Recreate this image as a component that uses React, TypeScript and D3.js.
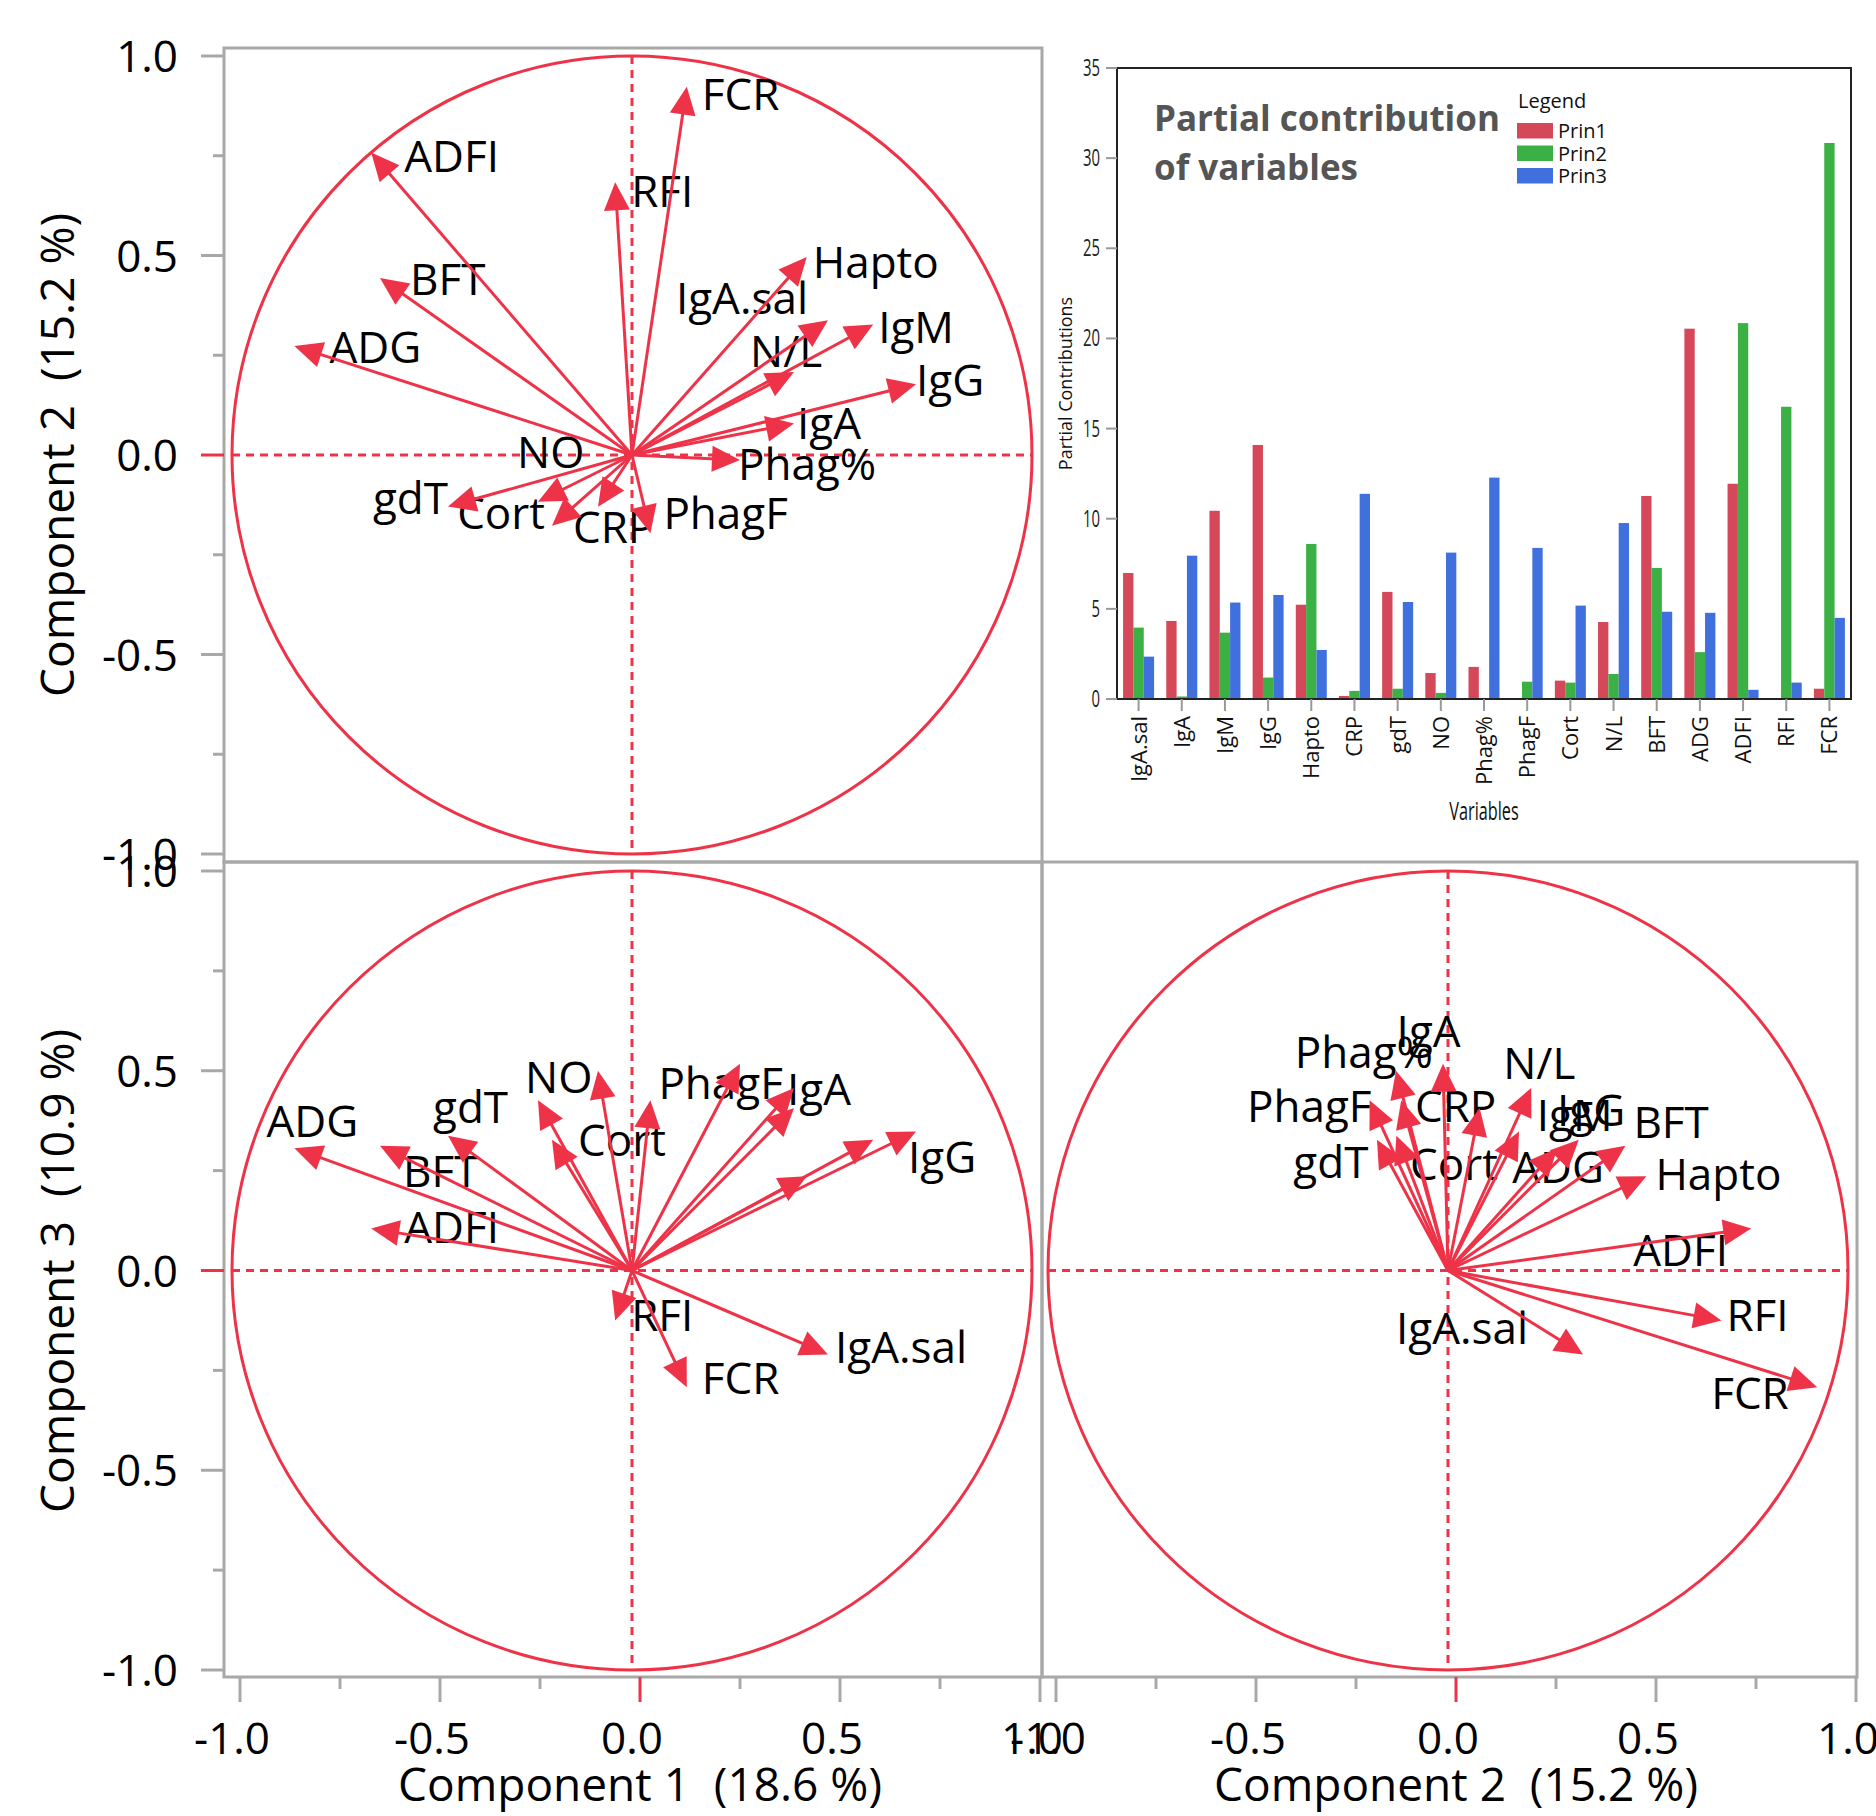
import React from 'react';
import * as d3 from 'd3';

// variables in the order of the bar chart
const variables = ['IgA.sal', 'IgA', 'IgM', 'IgG', 'Hapto', 'CRP', 'gdT', 'NO', 'Phag%', 'PhagF', 'Cort', 'N/L', 'BFT', 'ADG', 'ADFI', 'RFI', 'FCR'];

// partial contributions (bar chart)
const prin1 = [6.99, 4.33, 10.44, 14.09, 5.23, 0.17, 5.94, 1.44, 1.78, 0.03, 1.02, 4.27, 11.26, 20.54, 11.94, 0.03, 0.57];
const prin2 = [3.96, 0.14, 3.68, 1.19, 8.6, 0.45, 0.57, 0.34, 0.0, 0.96, 0.91, 1.39, 7.27, 2.6, 20.85, 16.21, 30.84];
const prin3 = [2.35, 7.95, 5.35, 5.77, 2.72, 11.38, 5.38, 8.12, 12.28, 8.38, 5.18, 9.76, 4.84, 4.78, 0.51, 0.91, 4.5];

// loadings
const load1 = [0.49, 0.405, 0.603, 0.71, 0.437, -0.085, -0.46, -0.235, 0.27, 0.046, -0.2, 0.405, -0.63, -0.844, -0.652, -0.042, 0.137];
const load2 = [0.3375, 0.079, 0.327, 0.1775, 0.496, -0.13, -0.129, -0.117, -0.0125, -0.196, -0.1775, 0.208, 0.4435, 0.273, 0.758, 0.6835, 0.923];
const load3 = [-0.21, 0.407, 0.3275, 0.348, 0.236, 0.5, 0.3375, 0.426, 0.5175, 0.426, 0.3275, 0.457, 0.3125, 0.306, 0.105, -0.125, -0.292];

const legendNames = ['Prin1', 'Prin2', 'Prin3'];
const axisTicks = [-1, -0.75, -0.5, -0.25, 0, 0.25, 0.5, 0.75, 1];
const barTicks = [0, 5, 10, 15, 20, 25, 30, 35];

const RED = '#ee3349';
const GRAY = '#a8a8a8';
const FONT = "'Open Sans', 'Noto Sans', sans-serif";
const barColors = ['#d5485a', '#3bb145', '#4070dd'];

// label placement per plot: [anchor, dx, dy] relative to arrow tip
type Lab = [string, number, number];
const labTop: Record<string, Lab> = {
  FCR: ['start', 15, 7], ADFI: ['start', 33, 3], RFI: ['start', 16, 9], BFT: ['start', 30, 1],
  ADG: ['start', 35, 1], Hapto: ['start', 6, 5], 'IgA.sal': ['end', -20, -22], IgM: ['start', 5, 2],
  'N/L': ['start', -44, -21], IgG: ['start', 0, -4], IgA: ['start', 3, 0], 'Phag%': ['start', -2, 4],
  PhagF: ['start', 13, -20], CRP: ['start', -25, 20], NO: ['start', -21, -50], Cort: ['end', -7, -13],
  gdT: ['end', 0, -8],
};
const labBL: Record<string, Lab> = {
  ADG: ['start', -28, -27], BFT: ['start', 23, 25], ADFI: ['start', 33, -2], gdT: ['start', -15, -29],
  NO: ['start', -13, -23], Cort: ['start', 26, 0], PhagF: ['start', 8, -17], IgA: ['start', -7, -19],
  IgG: ['start', -8, 26], RFI: ['start', 16, -5], 'IgA.sal': ['start', 7, -7], FCR: ['start', 15, -9],
};
const labBR: Record<string, Lab> = {
  IgA: ['start', -83, -77], 'Phag%': ['end', -10, -12], 'N/L': ['start', -28, -25], PhagF: ['end', 2, 6],
  CRP: ['start', 19, 35], IgG: ['start', 38, -21], IgM: ['start', -42, -25], BFT: ['start', 8, -24],
  gdT: ['end', -28, 26], Cort: ['start', 33, 24], ADG: ['start', -45, 19], Hapto: ['start', 9, -2],
  ADFI: ['start', -118, 21], RFI: ['start', 5, -5], FCR: ['start', -106, 6], 'IgA.sal': ['start', -187, -26],
};

const xL = d3.scaleLinear().domain([-1, 1]).range([232, 1032]);
const xR = d3.scaleLinear().domain([-1, 1]).range([1048, 1848]);
const yT = d3.scaleLinear().domain([-1, 1]).range([854, 56]);
const yB = d3.scaleLinear().domain([-1, 1]).range([1670, 871]);

function arrowHead(cx: number, cy: number, tx: number, ty: number) {
  const len = Math.hypot(tx - cx, ty - cy);
  const ux = (tx - cx) / len, uy = (ty - cy) / len;
  const h = 28, w = 13;
  const bx = tx - ux * h, by = ty - uy * h;
  const pts = [[tx, ty], [bx - uy * w, by + ux * w], [bx + uy * w, by - ux * w]];
  return { line: [bx + ux * 4, by + uy * 4], pts: pts.map(p => p.join(',')).join(' ') };
}

function LoadingPlot({ xv, yv, xs, ys, labels }: any) {
  const cx = xs(0), cy = ys(0);
  const rx = xs(1) - cx, ry = cy - ys(1);
  return (
    <g>
      <ellipse cx={cx} cy={cy} rx={rx} ry={ry} fill="none" stroke={RED} strokeWidth={3} />
      <line x1={xs(-1)} x2={xs(1)} y1={cy} y2={cy} stroke={RED} strokeWidth={3} strokeDasharray="8,6" />
      <line x1={cx} x2={cx} y1={ys(1)} y2={ys(-1)} stroke={RED} strokeWidth={3} strokeDasharray="8,6" />
      {variables.map((v, i) => {
        const l = labels[v];
        if (!l) return null;
        return (
          <text key={'t' + v} x={xs(xv[i]) + l[1]} y={ys(yv[i]) + l[2] + 16} textAnchor={l[0]}
            fontSize={44} fontFamily={FONT} fill="#000">{v}</text>
        );
      })}
      {variables.map((v, i) => {
        const tx = xs(xv[i]), ty = ys(yv[i]);
        const a = arrowHead(cx, cy, tx, ty);
        return (
          <g key={'a' + v}>
            <line x1={cx} y1={cy} x2={a.line[0]} y2={a.line[1]} stroke={RED} strokeWidth={3} />
            <polygon points={a.pts} fill={RED} />
          </g>
        );
      })}
    </g>
  );
}

function YAxis({ ys }: any) {
  return (
    <g>
      {axisTicks.map(t => {
        const major = Math.abs(t * 2 - Math.round(t * 2)) < 1e-6;
        return (
          <line key={t} x1={major ? 201 : 213} x2={224} y1={ys(t)} y2={ys(t)}
            stroke={t === 0 ? RED : GRAY} strokeWidth={3} />
        );
      })}
      {axisTicks.filter(t => Math.abs(t * 2 - Math.round(t * 2)) < 1e-6).map(t => (
        <text key={'l' + t} x={178} y={ys(t) + 16} textAnchor="end" fontSize={44} fontFamily={FONT}>
          {t.toFixed(1)}
        </text>
      ))}
    </g>
  );
}

function XAxis({ xs }: any) {
  return (
    <g>
      {axisTicks.map(t => {
        const major = Math.abs(t * 2 - Math.round(t * 2)) < 1e-6;
        return (
          <line key={t} x1={xs(t) + 8} x2={xs(t) + 8} y1={1677} y2={major ? 1702 : 1689}
            stroke={t === 0 ? RED : GRAY} strokeWidth={3} />
        );
      })}
      {axisTicks.filter(t => Math.abs(t * 2 - Math.round(t * 2)) < 1e-6).map(t => (
        <text key={'l' + t} x={xs(t)} y={1754} textAnchor="middle" fontSize={44} fontFamily={FONT}>
          {t.toFixed(1)}
        </text>
      ))}
    </g>
  );
}

function BarInset() {
  const x0 = 1117, x1 = 1851, top = 68, base = 699;
  const xb = d3.scaleBand().domain(variables).range([x0, x1]).paddingInner(0);
  const sub = d3.scaleBand().domain(legendNames).range([0, 31]);
  const y = d3.scaleLinear().domain([0, 35]).range([base, top]);
  const series = [prin1, prin2, prin3];
  return (
    <g fontFamily={FONT}>
      {series.map((s, k) => s.map((val, i) => (
        <rect key={k + '-' + i} x={(xb(variables[i]) as number) + (xb.bandwidth() - 31) / 2 + (sub(legendNames[k]) as number)}
          y={y(val)} width={sub.bandwidth()} height={base - y(val)} fill={barColors[k]} />
      )))}
      <rect x={x0} y={top} width={x1 - x0} height={base - top} fill="none" stroke="#222" strokeWidth={2} />
      {barTicks.map(t => (
        <g key={t}>
          <line x1={x0 - 11} x2={x0} y1={y(t)} y2={y(t)} stroke="#999" strokeWidth={2} />
          <text transform={`translate(${x0 - 17},${y(t) + 8}) scale(0.62,1)`} textAnchor="end" fontSize={24} fill="#222">{t}</text>
        </g>
      ))}
      {variables.map(v => {
        const c = (xb(v) as number) + xb.bandwidth() / 2;
        return (
          <g key={v}>
            <line x1={c} x2={c} y1={base} y2={base + 12} stroke="#999" strokeWidth={2} />
            <text transform={`translate(${c + 8},716) rotate(-90)`} textAnchor="end" fontSize={22} fill="#111">{v}</text>
          </g>
        );
      })}
      <text transform="translate(1484,820) scale(0.65,1)" textAnchor="middle" fontSize={25} fill="#111">Variables</text>
      <text transform={`translate(1072,${(top + base) / 2}) rotate(-90)`} textAnchor="middle" fontSize={18} fill="#111">Partial Contributions</text>
      <text x={1154} y={131} fontSize={35} fontWeight="bold" fill="#555">Partial contribution</text>
      <text x={1154} y={180} fontSize={35} fontWeight="bold" fill="#555">of variables</text>
      <text x={1518} y={108} fontSize={20} fill="#111">Legend</text>
      {legendNames.map((n, k) => (
        <g key={n}>
          <rect x={1517} y={123 + k * 22.5} width={36} height={15.5} fill={barColors[k]} />
          <text x={1558} y={138 + k * 22.5} fontSize={20} fill="#111">{n}</text>
        </g>
      ))}
    </g>
  );
}

const gap = '\u00a0 ';

export default function App() {
  return (
    <svg width={1876} height={1816} style={{ position: 'absolute', left: 0, top: 0, background: '#fff' }}>
      <rect width={1876} height={1816} fill="#fff" />
      <rect x={224} y={48} width={818} height={814} fill="none" stroke={GRAY} strokeWidth={3} />
      <rect x={224} y={862} width={818} height={815} fill="none" stroke={GRAY} strokeWidth={3} />
      <rect x={1042} y={862} width={815} height={815} fill="none" stroke={GRAY} strokeWidth={3} />
      <YAxis ys={yT} />
      <YAxis ys={yB} />
      <XAxis xs={xL} />
      <XAxis xs={xR} />
      <LoadingPlot xv={load1} yv={load2} xs={xL} ys={yT} labels={labTop} />
      <LoadingPlot xv={load1} yv={load3} xs={xL} ys={yB} labels={labBL} />
      <LoadingPlot xv={load2} yv={load3} xs={xR} ys={yB} labels={labBR} />
      <g fontFamily={FONT} fontSize={46}>
        <text transform="translate(74,455) rotate(-90)" textAnchor="middle">{'Component 2' + gap + '(15.2 %)'}</text>
        <text transform="translate(74,1271) rotate(-90)" textAnchor="middle">{'Component 3' + gap + '(10.9 %)'}</text>
        <text x={640} y={1801} textAnchor="middle">{'Component 1' + gap + '(18.6 %)'}</text>
        <text x={1456} y={1801} textAnchor="middle">{'Component 2' + gap + '(15.2 %)'}</text>
      </g>
      <BarInset />
    </svg>
  );
}
